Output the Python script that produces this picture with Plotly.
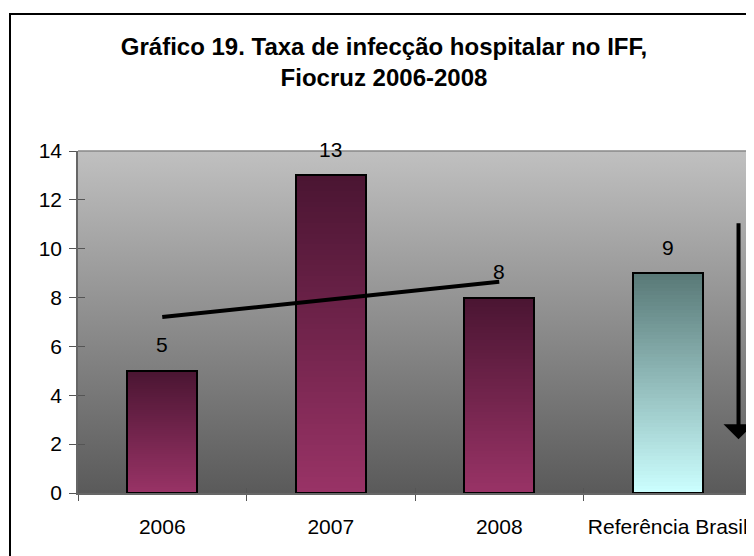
import base64
import plotly.graph_objects as go

# ---- data ----
categories = ["2006", "2007", "2008", "Referência Brasil"]
values = [5, 13, 8, 9]
trend_x = ["2006", "2008"]
trend_y = [7.2, 8.65]
arrow_x = 3.42
arrow_from = 11.1
arrow_to = 2.2
y_ticks = [0, 2, 4, 6, 8, 10, 12, 14]
title_text = "<b>Gráfico 19. Taxa de infecção hospitalar no IFF,<br>Fiocruz 2006-2008</b>"

FONT = "Liberation Sans, Arial, sans-serif"
W, H = 754, 556
# page body has an 8px margin; figure pixel = screen pixel - 8
L, R, T, B = 70, 10, 143, 71
BAR_W = 0.415
N = 60

maroon_bottom = (153, 51, 102)
maroon_top = (74, 21, 50)
teal_bottom = (204, 255, 255)
teal_top = (88, 120, 118)


def lerp(c0, c1, t):
    return "rgb(%d,%d,%d)" % tuple(round(a + (b - a) * t) for a, b in zip(c0, c1))


fig = go.Figure()

# gradient bars built from stacked slices of each value
for k in range(N):
    t = (k + 0.5) / N
    cols = []
    for c in categories:
        if c == "Referência Brasil":
            cols.append(lerp(teal_bottom, teal_top, t))
        else:
            cols.append(lerp(maroon_bottom, maroon_top, t))
    fig.add_trace(go.Bar(
        x=categories,
        y=[v / N for v in values],
        base=[v * k / N for v in values],
        width=BAR_W,
        marker=dict(color=cols, line=dict(color=cols, width=1)),
        hoverinfo="skip", showlegend=False,
    ))

# outline bars
fig.add_trace(go.Bar(
    x=categories, y=values, width=BAR_W,
    marker=dict(color="rgba(0,0,0,0)", line=dict(color="black", width=2)),
    hoverinfo="skip", showlegend=False,
))

# trend line
fig.add_trace(go.Scatter(
    x=trend_x, y=trend_y, mode="lines",
    line=dict(color="black", width=4),
    hoverinfo="skip", showlegend=False,
))

# dummy trace for overlay axes (inside half of crossing ticks)
fig.add_trace(go.Scatter(
    x=categories, y=[None] * len(categories), xaxis="x2", yaxis="y2",
    mode="markers", hoverinfo="skip", showlegend=False,
))

# value labels (category index positions)
for i, v in enumerate(values):
    fig.add_annotation(x=i, y=v, text=str(v), showarrow=False, yshift=26,
                       xref="x", yref="y", yanchor="middle",
                       font=dict(family=FONT, size=21, color="black"))

# arrow
fig.add_annotation(x=arrow_x, y=arrow_to, ax=arrow_x, ay=arrow_from,
                   xref="x", yref="y", axref="x", ayref="y",
                   text="", showarrow=True, arrowhead=1, arrowsize=1.25,
                   arrowwidth=4, arrowcolor="black")

# background gradient of the plot area
svg = ('<svg xmlns="http://www.w3.org/2000/svg" width="100" height="100" '
       'viewBox="0 0 100 100" preserveAspectRatio="none">'
       '<defs><linearGradient id="g" x1="0" y1="0" x2="0" y2="1">'
       '<stop offset="0" stop-color="#c0c0c0"/><stop offset="1" stop-color="#5a5a5a"/>'
       '</linearGradient></defs><rect width="100" height="100" fill="url(#g)"/></svg>')
src = "data:image/svg+xml;base64," + base64.b64encode(svg.encode()).decode()
fig.add_layout_image(dict(source=src, xref="paper", yref="paper", x=0, y=1,
                          sizex=1, sizey=1, sizing="stretch", layer="below",
                          xanchor="left", yanchor="top"))

pw, ph = W - L - R, H - T - B

fig.update_layout(
    width=W, height=H,
    margin=dict(l=L, r=R, t=T, b=B, autoexpand=False),
    paper_bgcolor="white", plot_bgcolor="rgba(0,0,0,0)",
    barmode="overlay", bargap=0,
    title=dict(text=title_text, x=376 / W, xanchor="center", xref="container",
               y=1 - 47 / H, yanchor="top", yref="container",
               font=dict(family=FONT, size=24, color="black")),
    font=dict(family=FONT, size=21, color="black"),
    xaxis=dict(type="category", categoryarray=categories, range=[-0.5, 3.5],
               tickson="boundaries", ticks="outside", ticklen=6, tickcolor="#555",
               showline=True, linecolor="#666", linewidth=1.5, mirror=False,
               showgrid=False, ticklabelstandoff=14, tickangle=0, automargin=False,
               tickfont=dict(family=FONT, size=21, color="black")),
    xaxis2=dict(type="category", categoryarray=categories, range=[-0.5, 3.5],
                overlaying="x", anchor="y", side="bottom", automargin=False,
                tickson="boundaries", ticks="inside", ticklen=5, tickcolor="#555",
                showticklabels=False, showgrid=False, showline=False),
    yaxis=dict(range=[0, 14], tickvals=y_ticks, ticks="outside", ticklen=7,
               tickcolor="#555", showline=True, linecolor="#666", linewidth=1.5,
               showgrid=False, zeroline=False, ticklabelstandoff=3, automargin=False,
               tickfont=dict(family=FONT, size=21, color="black")),
    yaxis2=dict(range=[0, 14], tickvals=y_ticks, overlaying="y", anchor="x",
                side="left", ticks="inside", ticklen=7, tickcolor="#555", automargin=False,
                showticklabels=False, showgrid=False, showline=False, zeroline=False),
)
# plot frame top/right lines (gray)
fig.add_shape(type="line", xref="paper", yref="paper", x0=0, x1=1, y0=1, y1=1,
              line=dict(color="#888", width=1.5))
fig.add_shape(type="line", xref="paper", yref="paper", x0=1, x1=1, y0=0, y1=1,
              line=dict(color="#888", width=1.5))
# outer border (right and bottom edges run off the page)
fig.add_shape(type="rect", xref="paper", yref="paper",
              x0=(2 - L) / pw, x1=1.2, y0=-1.0, y1=(H - B - 6) / ph,
              line=dict(color="black", width=2), fillcolor="rgba(0,0,0,0)", layer="above")

fig.write_html("out.html")
